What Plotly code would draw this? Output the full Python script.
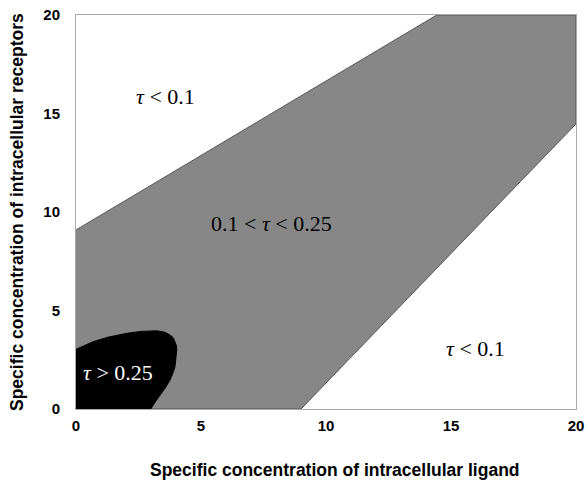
import plotly.graph_objects as go

# Band (0.1 < tau < 0.25) boundary, in data units
band_x = [0, 9.0, 20, 20, 14.43, 0]
band_y = [0, 0, 14.47, 20, 20, 9.09]

# Black region (tau > 0.25) outline
blob_x = [0, 0, 0.3, 0.69, 1.3, 2.03, 2.6, 3.23, 3.55, 3.76, 3.9, 3.96, 4.02, 4.03,
          4.01, 3.96, 3.87, 3.76, 3.57, 3.36, 3.17, 2.99, 0]
blob_y = [0, 3.03, 3.2, 3.42, 3.65, 3.84, 3.94, 3.97, 3.9, 3.76, 3.6, 3.42, 3.2, 3.0,
          2.6, 2.15, 1.8, 1.47, 1.07, 0.71, 0.36, 0, 0]

tick_vals = [0, 5, 10, 15, 20]
tick_text = ["0", "5", "10", "15", "20"]

label_text = ["<i>τ</i> < 0.1", "0.1 < <i>τ</i> < 0.25", "<i>τ</i> < 0.1", "<i>τ</i> > 0.25"]
label_x = [3.56, 7.8, 15.96, 1.68]
label_y = [15.84, 9.44, 3.05, 1.83]
label_color = ["black", "black", "black", "white"]

fig = go.Figure()
fig.add_trace(go.Scatter(x=band_x, y=band_y, fill="toself", fillcolor="#878787",
                         mode="lines", line=dict(color="#555555", width=1),
                         hoverinfo="skip", showlegend=False))
fig.add_trace(go.Scatter(x=blob_x, y=blob_y, fill="toself", fillcolor="black",
                         mode="lines", line=dict(color="black", width=1),
                         hoverinfo="skip", showlegend=False))

for t, x, y, c in zip(label_text, label_x, label_y, label_color):
    fig.add_annotation(x=x, y=y, text=t, showarrow=False,
                       font=dict(family="Liberation Serif", size=22, color=c))

fig.add_annotation(xref="paper", yref="paper", x=0.518, y=-0.155,
                   text="<b>Specific concentration of intracellular ligand</b>",
                   showarrow=False, font=dict(family="Liberation Sans", size=17.5, color="black"),
                   xanchor="center", yanchor="middle")
fig.add_annotation(xref="paper", yref="paper", x=-0.118, y=0.5,
                   text="<b>Specific concentration of intracellular receptors</b>",
                   showarrow=False, textangle=-90,
                   font=dict(family="Liberation Sans", size=17.5, color="black"),
                   xanchor="center", yanchor="middle")

axis_common = dict(range=[0, 20], tickvals=tick_vals, ticktext=tick_text,
                   showgrid=False, zeroline=False, showline=True, linecolor="#aaaaaa",
                   linewidth=1, mirror=True, ticks="", automargin=False,
                   ticklabeloverflow="allow", fixedrange=True,
                   tickfont=dict(family="Liberation Sans", size=15, color="black",
                                 weight="bold"))

fig.update_layout(
    width=587, height=485,
    margin=dict(l=76, r=11, t=15, b=76),
    plot_bgcolor="white", paper_bgcolor="white",
    hovermode=False,
    xaxis=dict(**axis_common, ticklabelstandoff=3),
    yaxis=dict(**axis_common, ticklabelstandoff=12),
)

fig.write_html("out.html", config={"displayModeBar": False},
               post_script="document.body.style.margin='0';document.body.style.overflow='hidden';")
